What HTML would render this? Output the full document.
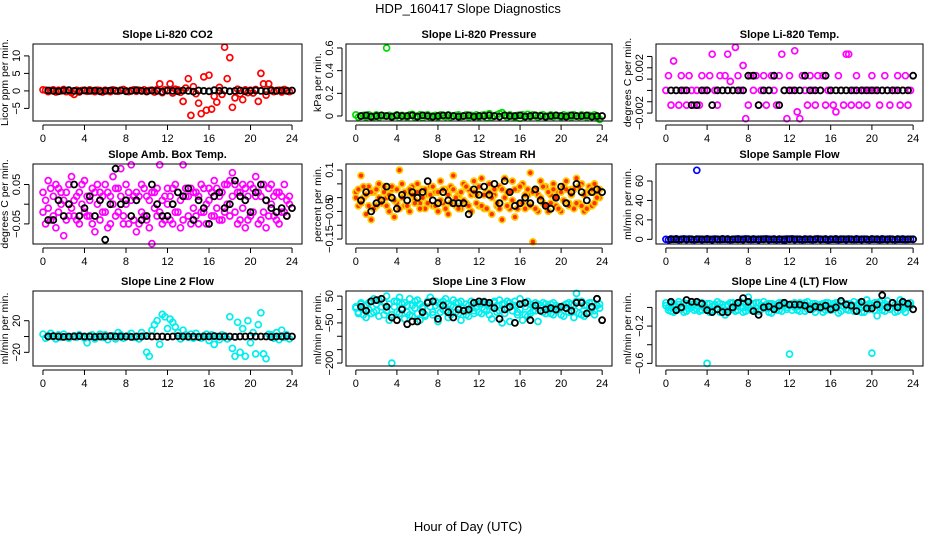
<!DOCTYPE html>
<html><head><meta charset="utf-8">
<style>
body{margin:0;background:#fff;}
svg{display:block;font-family:"Liberation Sans",Arial,sans-serif;}
</style></head>
<body>
<svg id="chart" width="936" height="540" viewBox="0 0 936 540">
<text x="468" y="13" text-anchor="middle" font-size="13">HDP_160417  Slope Diagnostics</text>
<text x="468" y="531" text-anchor="middle" font-size="13">Hour of Day (UTC)</text>
</svg>
<script>
const hours = [0,0.25,0.5,0.75,1,1.25,1.5,1.75,2,2.25,2.5,2.75,3,3.25,3.5,3.75,4,4.25,4.5,4.75,5,5.25,5.5,5.75,6,6.25,6.5,6.75,7,7.25,7.5,7.75,8,8.25,8.5,8.75,9,9.25,9.5,9.75,10,10.25,10.5,10.75,11,11.25,11.5,11.75,12,12.25,12.5,12.75,13,13.25,13.5,13.75,14,14.25,14.5,14.75,15,15.25,15.5,15.75,16,16.25,16.5,16.75,17,17.25,17.5,17.75,18,18.25,18.5,18.75,19,19.25,19.5,19.75,20,20.25,20.5,20.75,21,21.25,21.5,21.75,22,22.25,22.5,22.75,23,23.25,23.5,23.75];
const hoursB = [0.5,1,1.5,2,2.5,3,3.5,4,4.5,5,5.5,6,6.5,7,7.5,8,8.5,9,9.5,10,10.5,11,11.5,12,12.5,13,13.5,14,14.5,15,15.5,16,16.5,17,17.5,18,18.5,19,19.5,20,20.5,21,21.5,22,22.5,23,23.5,24];
const xTicks = [0,4,8,12,16,20,24];

const co2Color = [0.3,0.2,-0.2,0.1,0.3,-0.3,0.2,0,0.4,-0.2,0.1,-0.5, -1.0,0.2,-0.3,0.1,0.2,-0.1,0.3,0,-0.2,0.2,0.1,-0.3, 0.2,0,-0.2,0.3,0.1,-0.1,0.2,0.4,0,-0.2,0.1,0.3, -0.1,0.2,0,0.3,-0.2,0.1,0.2,-0.3,0.4,2.0,-0.5,0.3, 0.1,2.0,-0.6,0.5,0.3,-0.4,-3.0,0.8,3.5,-7.0,1.2,-0.8, -3.5,-6.5,4.0,-5.5,4.5,-5.2,-1.5,-3.2,1.0,-1.0,12.5,3.5, 9.5,-4.7,-2.0,0.5,-0.8,-2.5,0.3,-0.5,0.2,-0.6,0.4,-3.0, 5.0,2.0,-1.2,2.0,0.3,-0.2,0.1,0.2,-0.3,0.4,0.1,-0.2];
const co2Black = [0.1,0,-0.1,0.1,0.2,0,-0.1,0.1,0,0.1,-0.1,0, 0.1,0,0.1,-0.1,0,0.2,0,-0.1,0.1,0,-0.2,0.1, 0,-0.1,0.1,0,-0.2,0.1,0,-0.1,0.2,0,0.1,-0.1, 0,0.1,-0.1,0,0.1,0,-0.1,0.1,0,0.1,0,0.1];
const presColor = [0.01,-0.01,0,0.005,-0.01,0.01,0,-0.005,0.01,-0.01,0.005,0, 0.6,0.005,-0.01,0,0.01,-0.015,0.005,0,-0.01,0.01,0.015,-0.01, 0,0.01,-0.015,0.005,0.01,-0.01,0,0.005,-0.01,0.01,0,-0.005, 0.01,-0.01,0,0.005,0.01,-0.005,0,0.01,-0.01,0.005,0,0.01, -0.01,0.005,0.01,-0.015,0.02,-0.01,0,0.01,0.02,0.03,0.005,-0.01, 0.01,0,-0.01,0.005,-0.02,0.01,0,0.015,-0.005,0.01,0,-0.01, 0.005,0.01,-0.01,0,0.01,-0.005,0.005,0,-0.01,0.01,0,0.005, -0.01,0.01,0,-0.005,0.01,0,-0.01,0.005,0,0.01,-0.01,-0.03];
const presBlack = [0,0.005,-0.005,0,0.005,0,-0.005,0.005,0,0,0.005,-0.005, 0.005,0,-0.005,0,0.005,0.005,0,-0.005,0,0.005,-0.005,0, 0,0.005,0,-0.005,0.005,0,0,0.005,-0.005,0,0.005,0, -0.005,0,0.005,0,-0.005,0.005,0,0,0.005,-0.005,0,0];
const tempColor = [0,0.0013,-0.0013,0.0026,0,-0.0013,0.0013,0,-0.0013,0.0013,0,-0.0013, 0,-0.0013,0.0013,0,0,0.0013,0.0032,0,-0.0013,0.0013,0,0.0013, 0.0032,0.0008,0,0.0038,0.0013,0,0.0022,-0.0025,-0.0013,0.0013,0,0.0013, -0.0013,0,0.0013,-0.0013,0,0.0013,0,-0.0013,0.0013,0.0032,0,-0.0025, 0.0013,0,0.0035,-0.0019,-0.0025,0.0013,0,-0.0013,0.0013,0,-0.0013,0.0013, 0,0.0013,-0.0013,0,0,-0.0013,-0.0019,0.0013,0,-0.0013,0.0032,0.0032, -0.0013,0,0.0013,-0.0013,0,0,-0.0013,0,0.0013,0,0,-0.0013, 0,0.0013,0,-0.0013,0,0,0.0013,-0.0013,0,0.0013,-0.0013,0];
const tempBlack = [0,0,0,0,-0.0013,-0.0013,0,0,-0.0013,0,0,0, 0,0,0,0.0013,0.0013,-0.0013,0,0,0.0013,-0.0013,0,0, 0,0,0.0013,0,0,0,0.0013,0,0,0,0,0, 0,0,0,0,0,0,0,0,0,0,0,0.0013];
const ambColor = [-0.02,0.01,0.06,-0.04,0.02,-0.06,0.04,0.0,-0.08,0.03,-0.03,0.07, 0.01,-0.04,0.03,0.05,-0.02,0.02,-0.03,0.04,-0.07,0.0,0.03,-0.02, 0.05,-0.06,0.02,0.07,-0.03,0.04,0.09,-0.05,0.0,0.03,0.1,-0.04, -0.07,0.02,-0.02,0.04,-0.04,0.01,-0.1,0.03,-0.03,0.1,-0.05,0.02, 0.0,-0.04,0.04,-0.02,0.03,-0.06,0.1,0.02,-0.03,0.04,-0.01,0.03, -0.05,0.05,-0.02,0.0,0.04,-0.03,0.06,-0.01,0.02,-0.04,0.05,0.0, 0.06,0.08,-0.02,0.03,-0.04,0.05,-0.06,0.02,-0.03,0.04,0.07,-0.05, 0.02,-0.02,-0.06,0.04,0.0,-0.03,0.03,-0.05,0.02,-0.02,0.01,0.02];
const ambColor2 = [0.03,-0.05,-0.01,0.04,-0.03,0.05,-0.02,0.03,0.01,-0.04,0.05,-0.01, -0.03,0.02,-0.05,0.0,0.06,-0.03,0.01,-0.05,0.03,0.05,-0.04,0.02, -0.02,0.03,-0.05,0.0,0.04,-0.02,0.02,-0.03,0.05,-0.05,0.01,0.02, 0.03,-0.05,0.05,-0.03,0.02,-0.06,0.03,-0.01,0.04,-0.02,0.01,-0.04, 0.04,0.02,-0.05,0.05,-0.02,0.01,-0.04,0.04,0.02,-0.05,0.03,-0.03, 0.02,-0.02,0.04,-0.05,0.01,0.03,-0.03,0.04,-0.04,0.03,-0.02,0.05, -0.03,0.02,0.05,-0.05,0.03,-0.01,0.04,-0.04,0.05,-0.02,0.02,0.03, -0.04,0.05,0.01,-0.03,0.05,0.02,-0.04,0.03,-0.02,0.05,-0.03,0.0];
const ambBlack = [-0.04,-0.04,0.01,-0.03,0.0,0.05,-0.03,-0.01,0.02,-0.03,0.01,-0.09, 0.0,0.09,0.0,0.01,-0.03,0.01,-0.04,-0.03,0.05,0.0,-0.03,-0.03, 0.0,0.03,0.02,0.04,-0.04,0.01,-0.01,-0.05,0.02,0.03,-0.01,0.0, 0.06,0.02,0.01,-0.02,0.03,0.05,0.01,-0.01,-0.02,-0.01,-0.03,-0.01];
const rhColor = [0.02,-0.03,0.08,0.0,-0.06,0.04,-0.08,0.02,-0.03,0.05,-0.01,0.04, 0.0,-0.05,0.03,-0.07,-0.02,0.1,0.05,-0.03,0.02,-0.05,0.04,-0.01, 0.05,-0.02,0.03,-0.04,0.01,0.04,-0.03,0.02,-0.05,0.06,-0.02,0.03, -0.06,0.04,0.08,-0.03,0.01,-0.04,0.05,-0.02,0.03,-0.05,0.06,0.01, -0.03,0.07,-0.04,0.02,0.05,-0.06,0.01,-0.03,0.04,-0.08,0.07,0.02, -0.04,0.06,-0.07,0.03,-0.02,0.05,-0.04,0.01,0.09,-0.16,0.03,-0.05, 0.06,-0.02,0.04,-0.05,0.01,0.05,-0.03,0.02,-0.05,0.04,0.06,-0.02, 0.03,-0.04,0.07,-0.02,0.05,-0.05,0.02,0.04,-0.03,0.05,0.01,0.0];
const rhColor2 = [0.0,0.03,-0.02,0.04,0.01,-0.03,0.02,-0.04,0.03,0.0,-0.02,0.02, -0.03,0.01,0.04,-0.01,0.03,-0.04,0.0,0.02,-0.03,0.03,0.01,-0.02, 0.02,-0.04,0.0,0.03,-0.02,0.01,0.04,-0.03,0.02,-0.01,0.03,-0.04, 0.01,-0.02,0.03,0.0,-0.04,0.02,-0.01,0.04,-0.03,0.01,0.02,-0.02, 0.04,-0.03,0.01,-0.04,0.02,0.0,0.03,-0.02,-0.04,0.03,0.0,-0.03, 0.02,-0.01,0.03,-0.04,0.04,-0.02,0.01,0.03,-0.03,0.02,-0.04,0.01, 0.0,0.04,-0.03,0.02,-0.02,0.03,0.0,-0.04,0.02,-0.01,0.03,-0.03, 0.01,0.03,-0.02,0.04,-0.03,0.01,-0.04,0.02,0.03,-0.02,0.0,0.03];
const rhBlack = [-0.01,0.02,-0.05,-0.02,-0.01,0.04,0.0,-0.04,0.01,-0.01,0.02,0.0, 0.02,0.06,-0.01,-0.02,0.02,-0.01,-0.02,-0.02,-0.02,-0.06,0.03,0.01, 0.04,0.01,0.05,-0.02,0.06,0.02,-0.03,-0.02,0.0,-0.02,0.03,-0.01, -0.03,-0.04,0.0,0.04,-0.02,0.02,0.05,0.02,-0.01,0.02,0.03,0.02];
const flowColor = [0,-0.5,0.3,0,0.5,-0.3,0,0.4,-0.2,0.3,0,-0.4, 71,0.2,-0.3,0,0.4,0,-0.5,0.3,0,-0.2,0.4,0, 0.3,-0.4,0,0.2,0.5,0,-0.3,0.4,0,-0.2,0.3,0, -0.5,0.2,0,0.4,-0.3,0,0.3,-0.4,0.2,0,-1.5,0.3, 0,0.4,-0.3,0.2,0,-0.4,0.3,0,0.2,-0.3,0,0.4, -0.2,0,0.3,-0.5,0.2,0,0.4,-0.3,0,0.2,-0.4,0.3, 0,-0.2,0.4,0,-0.3,0.2,0,-0.4,0.3,0,0.2,-0.3, 0.4,0,-0.2,0.3,0,-0.4,0.2,0,0.3,-0.2,0,0.1];
const flowBlack = [0,0.1,0,-0.1,0,0.1,0,0,-0.1,0,0.1,0, 0,-0.1,0,0.1,0,0,0.1,0,-0.1,0,0,0.1, 0,0,-0.1,0,0.1,0,0,-0.1,0,0.1,0,0, -0.1,0,0,0.1,0,-0.1,0,0,0.1,0,0,0];
const line2Color = [3,-2,1,4,0,-3,2,-1,3,0,-2,60, 1,-1,2,0,-2,-8,1,2,-3,0,3,-1, 2,-4,0,1,-3,5,2,-2,0,1,4,-1, 0,-3,5,1,-20,-25,8,15,20,-10,28,25, 10,22,18,12,5,-3,8,2,-1,3,-2,4, 0,-2,1,3,-5,2,-10,0,-4,2,1,-3, 25,-15,-25,18,-20,10,-25,20,-8,5,-22,15, 30,-22,-28,3,2,-2,5,-4,8,-1,2,-3];
const line2Black = [0,0.5,0,-0.5,0,0,0.5,0,0,-0.5,0,0, 0.5,0,0,0,-0.5,0,0,0.5,0,0,0,-0.5, 0,0.5,0,0,0,-0.5,0,0,0.5,0,0,0, -0.5,0,0,0.5,0,0,0,-0.5,0,0,0.5,0];
const line3Color = [10,-10,20,0,-30,25,-15,40,-5,35,10,-20, 50,-40,-200,30,-10,45,20,-35,15,40,-25,5, 35,-40,10,-20,25,45,-10,30,-45,20,0,40, -30,15,35,-10,25,-40,5,20,-25,30,-5,10, 20,-15,30,-5,15,-35,25,-10,35,-50,20,5, -45,15,30,-20,40,-40,10,-25,20,-5,25,-45, 15,-10,20,0,-15,25,-5,10,-20,15,5,-10, 20,-30,60,-15,30,-25,15,-10,25,-5,40,5];
const line3Color2 = [5,-15,25,-20,15,0,30,-10,20,-25,10,25, -5,20,-20,10,30,-15,5,25,-10,-20,15,30, -15,20,5,-25,30,10,-20,15,25,-10,30,-5, 20,-20,10,25,-15,30,-5,-20,15,5,-15,25, -10,25,0,20,-20,10,30,15,-5,20,-15,30, 25,-5,15,-10,0,20,-20,30,-15,10,-5,20, -5,25,-15,10,20,-20,15,0,10,-25,20,25, -10,15,30,10,-20,15,-15,25,5,-20,15,20];
const line3Black = [10,-5,30,35,40,10,-30,-40,0,-55,-45,-45, -10,25,30,-35,15,-10,-30,0,-5,0,25,30, 28,25,5,-35,0,10,-50,20,25,-40,15,-5, 0,5,0,10,5,-5,25,25,-15,10,40,-40];
const line4Color = [0.05,0.0,-0.04,0.03,-0.02,0.06,0.01,-0.05,0.04,-0.01,0.03,-0.03, 0.02,-0.04,0.05,0.0,-0.6,0.04,-0.03,0.02,0.06,-0.05,0.03,-0.08, 0.01,0.05,-0.02,0.04,-0.03,0.06,0.0,-0.04,0.11,0.03,-0.02,0.05, -0.04,0.02,0.06,-0.01,0.04,-0.06,0.03,0.0,-0.03,0.05,0.02,-0.02, -0.5,0.04,0.0,-0.03,0.05,0.02,-0.04,0.06,0.01,-0.02,0.04,0.0, 0.03,-0.05,0.05,0.0,-0.03,0.04,0.02,-0.06,0.05,0.01,-0.02,0.04, 0.0,0.06,-0.03,0.03,-0.05,0.02,0.08,-0.02,-0.49,0.05,-0.09,0.06, 0.02,-0.04,0.07,-0.01,0.05,-0.05,0.03,0.08,-0.02,0.04,0.0,0.02];
const line4Color2 = [0.02,-0.03,0.04,-0.05,0.01,0.03,-0.02,0.05,-0.04,0.02,0.0,0.04, -0.02,0.05,-0.03,0.02,0.04,-0.05,0.01,0.03,-0.02,0.04,0.0,-0.04, 0.03,-0.02,0.05,-0.04,0.02,0.01,-0.05,0.03,0.0,-0.03,0.04,-0.01, 0.05,-0.02,0.0,0.03,-0.05,0.04,0.01,-0.03,0.05,-0.04,0.03,0.0, 0.02,-0.03,0.05,0.01,-0.04,0.03,0.05,-0.02,0.0,0.04,-0.05,0.02, -0.01,0.04,-0.03,0.05,0.0,-0.02,0.05,0.03,-0.04,0.01,0.04,-0.03, 0.03,-0.04,0.02,0.05,0.0,-0.05,0.01,0.04,0.02,-0.03,0.05,0.0, -0.03,0.04,0.01,-0.02,0.05,0.03,-0.04,0.0,0.04,-0.05,0.02,0.05];
const line4Black = [0.06,-0.03,0.0,0.08,0.06,0.06,0.04,-0.03,-0.05,-0.02,-0.05,-0.05, 0.0,0.05,0.1,0.06,-0.04,-0.08,0.0,0.01,-0.02,0.02,0.05,0.03, 0.03,0.03,0.02,-0.02,0.01,0.0,0.02,-0.02,0.0,0.07,0.03,0.02, -0.04,0.06,-0.01,-0.01,0.03,0.13,0.0,0.05,0.0,0.06,0.04,-0.02];

const co2Ticks=[-5,0,5,10], presTicks=[0,0.2,0.4,0.6], tempTicks=[-0.002,-0.001,0,0.001,0.002,0.003];
const ambTicks=[-0.05,0,0.05], rhTicks=[-0.15,-0.1,-0.05,0,0.05,0.1], flowTicks=[0,20,40,60];
const line2Ticks=[-20,0,20], line3Ticks=[-200,-150,-100,-50,0,50], line4Ticks=[-0.6,-0.4,-0.2,0];

const colL=[33,346,656], colR=[302,612,923], rowT=[44,164,291], rowB=[121,244,366];
const panels=[
 {name:'co2',title:'Slope Li-820 CO2',ylab:'Licor ppm per min.',c:0,r:0,ymin:-8.6,ymax:13.4,ticks:co2Ticks,show:[-5,0,5,10],col:'#ff0000',fill:'none',cd:[co2Color],bd:co2Black},
 {name:'pressure',title:'Slope Li-820 Pressure',ylab:'kPa per min.',c:1,r:0,ymin:-0.044,ymax:0.635,ticks:presTicks,show:[0,0.2,0.4,0.6],col:'#00dd00',fill:'none',cd:[presColor],bd:presBlack},
 {name:'temp',title:'Slope Li-820 Temp.',ylab:'degrees C per min.',c:2,r:0,ymin:-0.0027,ymax:0.0041,ticks:tempTicks,show:[-0.002,0.002],col:'#ff00ff',fill:'none',cd:[tempColor],bd:tempBlack},
 {name:'amb-temp',title:'Slope Amb. Box Temp.',ylab:'degrees C per min.',c:0,r:1,ymin:-0.101,ymax:0.102,ticks:ambTicks,show:[-0.05,0.05],col:'#ff00ff',fill:'none',cd:[ambColor,ambColor2],bd:ambBlack},
 {name:'rh',title:'Slope Gas Stream RH',ylab:'percent per min.',c:1,r:1,ymin:-0.168,ymax:0.122,ticks:rhTicks,show:[-0.15,-0.05,0,0.1],col:'#ffc800',fill:'#ff3000',cd:[rhColor,rhColor2],bd:rhBlack},
 {name:'sample-flow',title:'Slope Sample Flow',ylab:'ml/min per min.',c:2,r:1,ymin:-4.8,ymax:77.5,ticks:flowTicks,show:[0,20,40,60],col:'#0000ff',fill:'none',cd:[flowColor],bd:flowBlack},
 {name:'line2',title:'Slope Line 2 Flow',ylab:'ml/min per min.',c:0,r:2,ymin:-37.3,ymax:57.6,ticks:line2Ticks,show:[-20,20],col:'#00eeee',fill:'none',cd:[line2Color],bd:line2Black},
 {name:'line3',title:'Slope Line 3 Flow',ylab:'ml/min per min.',c:1,r:2,ymin:-211,ymax:69,ticks:line3Ticks,show:[-200,-50,50],col:'#00eeee',fill:'none',cd:[line3Color,line3Color2],bd:line3Black},
 {name:'line4',title:'Slope Line 4 (LT) Flow',ylab:'ml/min per min.',c:2,r:2,ymin:-0.628,ymax:0.176,ticks:line4Ticks,show:[-0.6,-0.2],col:'#00eeee',fill:'none',cd:[line4Color,line4Color2],bd:line4Black}
];
const NS='http://www.w3.org/2000/svg';
const svg=document.getElementById('chart');
function mk(tag,attrs,parent){const e=document.createElementNS(NS,tag);for(const k in attrs)e.setAttribute(k,attrs[k]);parent.appendChild(e);return e;}
function xScale(p,h){const L=colL[p.c],R=colR[p.c],w=R-L;return L+(h+0.96)/25.92*w;}
function yScale(p,v){const T=rowT[p.r],B=rowB[p.r];return B-(v-p.ymin)/(p.ymax-p.ymin)*(B-T);}
function fmt(v){return String(v).replace('-','\u2212');}
panels.forEach(p=>{
 const g=mk('g',{},svg);
 
 
 const L=colL[p.c],R=colR[p.c],T=rowT[p.r],B=rowB[p.r];
 const t=mk('text',{x:(L+R)/2,y:T-6,'text-anchor':'middle','font-size':11,'font-weight':'bold'},g);
 t.textContent=p.title;
 
 
 p.cd.forEach(series=>{
  const cg=mk('g',{},g);
  
  
  series.forEach((v,i)=>{
   const cy=yScale(p,v); if(cy<T-1||cy>B+1)return;
   const c=mk('circle',{cx:xScale(p,hours[i]).toFixed(1),cy:cy.toFixed(1),r:3,fill:p.fill,stroke:p.col,'stroke-width':1.7},cg);
   
   
  });
 });
 const bg=mk('g',{},g);
 
 
 p.bd.forEach((v,i)=>{
  const cy=yScale(p,v); if(cy<T-1||cy>B+1)return;
  const c=mk('circle',{cx:xScale(p,hoursB[i]).toFixed(1),cy:cy.toFixed(1),r:3,fill:'none',stroke:'#000','stroke-width':1.8},bg);
  
  
 });
 const box=mk('rect',{x:L,y:T,width:R-L,height:B-T,fill:'none',stroke:'#000','stroke-width':1},g);
 
 
 const xa=mk('g',{},g);
 
 
 mk('line',{x1:xScale(p,0),x2:xScale(p,24),y1:B+4,y2:B+4,stroke:'#000'},xa);
 xTicks.forEach(h=>{
  const x=xScale(p,h);
  mk('line',{x1:x,x2:x,y1:B+4,y2:B+9,stroke:'#000'},xa);
  const tl=mk('text',{x:x,y:B+21,'text-anchor':'middle','font-size':11},xa);
  tl.textContent=h;
 });
 const ya=mk('g',{},g);
 
 
 const y0=yScale(p,p.ticks[0]),y1=yScale(p,p.ticks[p.ticks.length-1]);
 mk('line',{x1:L-4,x2:L-4,y1:y0,y2:y1,stroke:'#000'},ya);
 p.ticks.forEach(v=>{
  const y=yScale(p,v);
  mk('line',{x1:L-9,x2:L-4,y1:y,y2:y,stroke:'#000'},ya);
  if(p.show.indexOf(v)>=0){
   const tl=mk('text',{x:L-13,y:y,'text-anchor':'middle','font-size':11,transform:`rotate(-90 ${L-13} ${y})`},ya);
   tl.textContent=fmt(v);
  }
 });
 const yl=mk('text',{x:L-25,y:(T+B)/2,'text-anchor':'middle','font-size':10.5,transform:`rotate(-90 ${L-25} ${(T+B)/2})`},g);
 yl.textContent=p.ylab;
 
 
});
</script>
</body></html>
